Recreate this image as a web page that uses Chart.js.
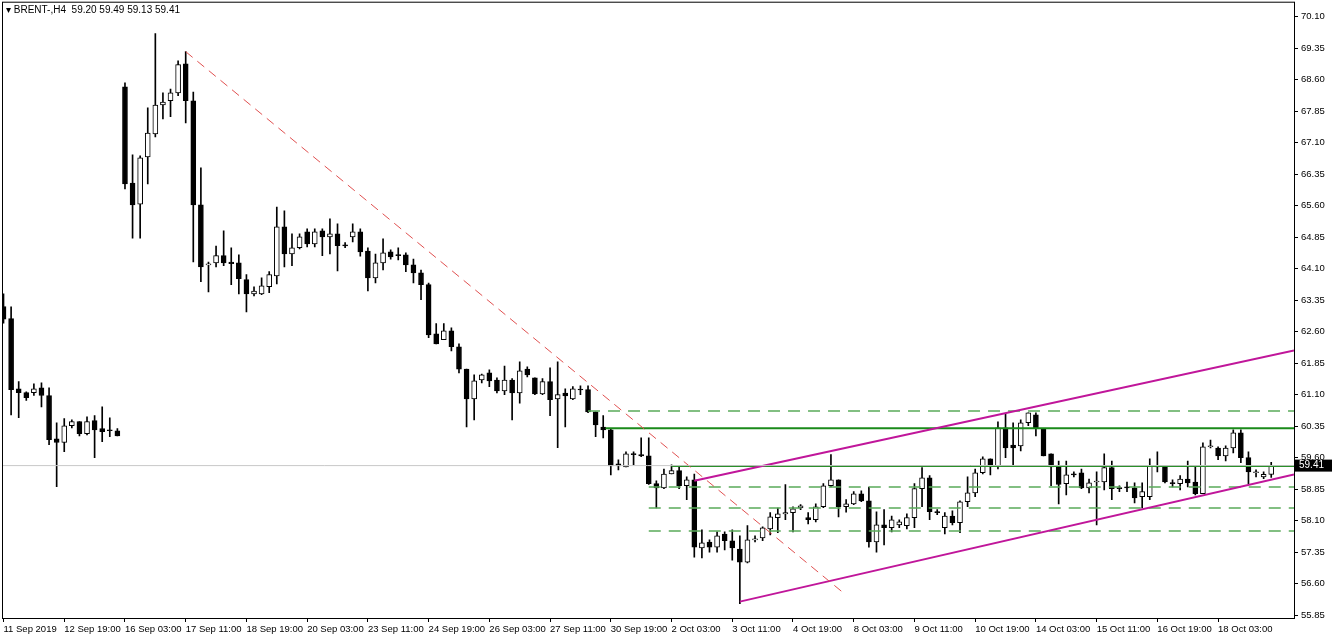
<!DOCTYPE html>
<html><head><meta charset="utf-8">
<script src="https://cdn.jsdelivr.net/npm/chart.js@4.4.1/dist/chart.umd.min.js"></script>
<style>
html,body{margin:0;padding:0;background:#fff;overflow:hidden;}
#wrap{position:relative;width:1332px;height:638px;overflow:hidden;}
#c{position:absolute;left:0;top:-7px;}
#hdr{position:absolute;left:6px;top:4px;font:10px "Liberation Sans",sans-serif;color:#000;white-space:pre;}
</style></head><body>
<div id="wrap"><canvas id="c" width="1332" height="645"></canvas><div id="hdr">▾ BRENT-,H4  59.20 59.49 59.13 59.41</div></div>
<script>
const OHLC = [
[63.2,63.5,62.8,62.9],[62.91,63.19,60.62,61.22],[61.24,61.41,60.55,61.15],[61.15,61.17,60.96,61.03],[61.15,61.36,61.08,61.24],[61.26,61.38,60.81,61.08],[61.08,61.26,59.91,60.03],[60.05,60.43,58.91,59.96],[59.96,60.53,59.74,60.36],[60.36,60.50,60.31,60.46],
[60.46,60.46,60.12,60.17],[60.17,60.57,60.14,60.46],[60.48,60.60,59.60,60.26],[60.29,60.81,59.98,60.22],[60.25,60.55,60.10,60.24],[60.24,60.29,60.12,60.12],[68.43,68.53,66.00,66.12],[66.14,66.81,64.83,65.62],[65.64,66.79,64.83,66.74],[66.76,67.93,66.12,67.33],
[67.31,69.70,67.24,68.00],[68.00,68.29,67.67,68.07],[68.10,68.38,67.72,68.29],[68.29,69.05,68.22,68.96],[68.98,69.27,67.57,68.10],[68.10,68.31,64.26,65.62],[65.62,66.50,63.79,64.14],[64.19,64.26,63.55,64.19],[64.24,64.64,64.14,64.41],[64.41,65.00,64.17,64.24],
[64.26,64.60,63.72,64.22],[64.24,64.43,63.50,63.86],[63.84,63.96,63.07,63.50],[63.50,63.67,63.45,63.57],[63.50,63.88,63.48,63.69],[63.67,64.03,63.53,63.96],[63.93,65.57,63.74,65.10],[65.10,65.48,64.14,64.45],[64.45,64.93,64.17,64.60],[64.60,64.93,64.57,64.86],
[64.98,65.05,64.62,64.69],[64.69,65.05,64.62,64.98],[65.00,65.05,64.41,64.86],[64.86,65.29,64.45,64.93],[64.93,65.17,64.05,64.65],[64.67,64.72,64.60,64.64],[64.86,65.17,64.74,64.98],[64.98,65.05,64.40,64.50],[64.52,64.60,63.57,63.88],[63.88,64.45,63.76,64.24],
[64.24,64.81,64.07,64.48],[64.50,64.55,64.33,64.38],[64.43,64.60,64.31,64.41],[64.43,64.48,64.03,64.19],[64.19,64.33,63.76,64.00],[64.00,64.07,63.36,63.72],[63.72,63.76,62.46,62.52],[62.55,62.79,62.31,62.31],[62.41,62.79,62.41,62.62],[62.62,62.69,62.14,62.24],
[62.24,62.31,61.62,61.71],[61.71,61.71,60.33,61.00],[61.00,61.57,60.50,61.43],[61.45,61.59,61.38,61.57],[61.62,61.69,61.29,61.43],[61.45,61.50,61.14,61.19],[61.19,61.78,61.10,61.45],[61.45,61.48,60.50,61.14],[61.14,61.88,60.90,61.67],[61.71,61.76,61.52,61.57],
[61.50,61.50,61.10,61.12],[61.12,61.48,61.10,61.41],[61.41,61.74,60.60,60.98],[61.00,61.88,59.84,61.10],[61.14,61.24,60.33,61.07],[61.00,61.29,60.98,61.24],[61.22,61.31,61.10,61.21],[61.22,61.31,60.67,60.69],[60.69,60.69,60.10,60.38],[60.33,60.60,60.07,60.26],
[60.26,60.29,59.19,59.40],[59.45,59.55,59.31,59.40],[59.38,59.74,59.38,59.69],[59.69,59.74,59.43,59.67],[59.67,60.07,59.62,59.64],[59.64,60.07,58.96,58.98],[58.98,59.05,58.40,58.88],[58.88,59.33,58.86,59.21],[59.21,59.43,59.21,59.29],[59.29,59.41,58.86,58.93],
[58.93,59.14,58.60,59.07],[59.07,59.21,57.23,57.47],[57.45,57.88,57.21,57.57],[57.59,57.64,57.35,57.47],[57.47,57.83,57.35,57.74],[57.78,57.83,57.40,57.62],[57.62,57.88,57.16,57.45],[57.42,57.74,56.12,57.11],[57.11,57.98,57.09,57.64],[57.64,57.74,57.59,57.66],
[57.69,57.95,57.62,57.93],[57.90,58.29,57.76,58.19],[58.17,58.40,57.81,58.26],[58.26,58.96,58.12,58.29],[58.29,58.43,57.83,58.38],[58.40,58.48,58.36,58.45],[58.17,58.29,58.02,58.12],[58.12,58.50,58.07,58.43],[58.43,58.98,58.41,58.93],[58.93,59.67,58.90,59.07],
[59.07,59.07,58.19,58.43],[58.43,58.60,58.30,58.50],[58.50,58.79,58.48,58.74],[58.74,58.81,58.55,58.57],[58.57,58.90,57.47,57.59],[57.59,58.31,57.35,58.00],[58.00,58.36,57.52,57.93],[57.93,58.21,57.83,58.12],[58.00,58.12,57.93,58.07],[57.98,58.26,57.90,58.17],
[58.17,58.98,57.93,58.86],[58.86,59.36,58.43,59.12],[59.12,59.17,58.12,58.31],[58.31,58.36,58.24,58.29],[57.93,58.29,57.78,58.21],[58.21,58.33,58.00,58.05],[58.05,58.57,57.81,58.55],[58.55,59.14,58.43,58.76],[58.76,59.33,58.67,59.24],[59.24,59.62,59.21,59.57],
[59.57,59.57,59.19,59.40],[59.40,60.45,59.33,60.31],[60.31,60.64,59.60,59.83],[59.90,60.43,59.43,59.83],[59.88,60.50,59.76,60.43],[60.43,60.67,60.36,60.67],[60.62,60.67,60.12,60.31],[60.29,60.29,59.64,59.64],[59.69,59.69,58.93,59.38],[59.40,59.52,58.50,58.96],
[58.98,59.52,58.71,59.19],[59.21,59.26,59.14,59.19],[59.24,59.33,58.86,58.88],[58.88,59.09,58.76,59.00],[59.02,59.26,58.00,59.02],[59.02,59.69,58.83,59.36],[59.36,59.52,58.60,58.86],[58.88,58.93,58.79,58.86],[58.90,59.02,58.79,58.88],[58.88,59.00,58.52,58.64],
[58.67,59.00,58.40,58.79],[58.67,59.57,58.60,59.40],[59.40,59.74,59.26,59.38],[59.38,59.40,59.00,59.02],[59.00,59.07,58.90,58.98],[58.98,59.17,58.83,59.09],[59.09,59.52,58.90,59.00],[59.02,59.38,58.71,58.74],[58.74,59.95,58.74,59.86],[59.86,60.02,59.83,59.86],
[59.83,59.86,59.55,59.64],[59.64,59.88,59.52,59.83],[59.83,60.26,59.71,60.19],[60.19,60.26,59.48,59.60],[59.60,59.74,58.98,59.26],[59.24,59.31,59.14,59.24],[59.14,59.26,59.10,59.20],[59.20,59.49,59.13,59.41]
];
const tickIndex = [0,8,16,24,32,40,48,56,64,72,80,88,96,104,112,120,128,136,144,152,160];
const tickText = ["11 Sep 2019","12 Sep 19:00","16 Sep 03:00","17 Sep 11:00","18 Sep 19:00","20 Sep 03:00","23 Sep 11:00","24 Sep 19:00","26 Sep 03:00","27 Sep 11:00","30 Sep 19:00","2 Oct 03:00","3 Oct 11:00","4 Oct 19:00","8 Oct 03:00","9 Oct 11:00","10 Oct 19:00","14 Oct 03:00","15 Oct 11:00","16 Oct 19:00","18 Oct 03:00"];
const priceTicks = [55.85,56.60,57.35,58.10,58.85,59.60,60.35,61.10,61.85,62.60,63.35,64.10,64.85,65.60,66.35,67.10,67.85,68.60,69.35,70.10];
const redTrend = [{x:24,y:69.27},{x:110.5,y:56.40}];
const upperChannel = [{x:91,y:59.05},{x:170,y:62.15}];
const lowerChannel = [{x:97,y:56.17},{x:170,y:59.20}];
const greenSolid = [[79.3,60.30],[88,59.40]];
const greenDashed = [[77,60.71],[85,58.90],[85,58.40],[85,57.85]];
const lastPrice = 59.41;
const X_MAX = 170;

const wick = OHLC.map((d,i)=>({x:i,y:[d[2],d[1]]}));
const body = OHLC.map((d,i)=>({x:i,y:[Math.min(d[0],d[3]),Math.max(d[0],d[3])]}));
const bodyColor = OHLC.map(d=>d[3]>=d[0]?'#ffffff':'#000000');
const lineDs = (data,color,w,dash)=>({type:'line',data,borderColor:color,borderWidth:w,borderDash:dash,pointRadius:0,fill:false,order:0});
const datasets = [
  {type:'bar',data:wick,backgroundColor:'#000',barThickness:1,grouped:false,order:3},
  {type:'bar',data:body,backgroundColor:bodyColor,borderColor:'#000',borderWidth:1,borderSkipped:false,barThickness:5,minBarLength:1,grouped:false,order:2},
  lineDs([{x:-1,y:lastPrice},{x:X_MAX,y:lastPrice}],'#c8c8c8',1,[]),
  lineDs(redTrend,'#e05050',1,[9,6]),
  lineDs(upperChannel,'#c0169a',2,[]),
  lineDs(lowerChannel,'#c0169a',2,[]),
  ...greenSolid.map(g=>lineDs([{x:g[0],y:g[1]},{x:X_MAX,y:g[1]}],'#1a8a1a',2,[])),
  ...greenDashed.map(g=>lineDs([{x:g[0],y:g[1]},{x:X_MAX,y:g[1]}],'#5aaa5a',1.5,[12,8]))
];
const frame = {id:'frame',afterDraw(ch){const a=ch.chartArea,c=ch.ctx;c.save();c.strokeStyle='#000';c.lineWidth=1;c.strokeRect(a.left+0.5,a.top+0.5,a.right-a.left,a.bottom-a.top);
  const y=ch.scales.y.getPixelForValue(lastPrice);c.fillStyle='#000';c.fillRect(a.right+1,y-6,37,12);c.fillStyle='#fff';c.font='10px "Liberation Sans"';c.textBaseline='middle';c.fillText(lastPrice.toFixed(2),a.right+5,y);c.restore();}};
new Chart(document.getElementById('c'),{
  data:{datasets},
  plugins:[frame],
  options:{responsive:false,animation:false,devicePixelRatio:1,
    layout:{padding:{left:2,top:0,right:0,bottom:0}},
    plugins:{legend:{display:false},tooltip:{enabled:false}},
    scales:{
      x:{type:'linear',offset:false,min:-0.2,max:X_MAX,
        afterBuildTicks:s=>{s.ticks=tickIndex.map(v=>({value:v}));},
        afterFit:s=>{s.height=20;},
        ticks:{autoSkip:false,maxRotation:0,align:'start',padding:2,color:'#000',font:{family:'Liberation Sans',size:9.5},
          callback:v=>{const k=tickIndex.indexOf(v);return k>=0?tickText[k]:'';}},
        grid:{drawOnChartArea:false,tickLength:4,color:'#000',offset:false},border:{display:false}},
      y:{type:'linear',position:'right',min:55.78,max:70.46,
        afterBuildTicks:s=>{s.ticks=priceTicks.map(v=>({value:v}));},
        afterFit:s=>{s.width=38;},
        ticks:{autoSkip:false,padding:3,color:'#000',font:{family:'Liberation Sans',size:9.5},callback:v=>v.toFixed(2)},
        grid:{drawOnChartArea:false,tickLength:4,color:'#000'},border:{display:false}}
    }}
});
</script></body></html>
